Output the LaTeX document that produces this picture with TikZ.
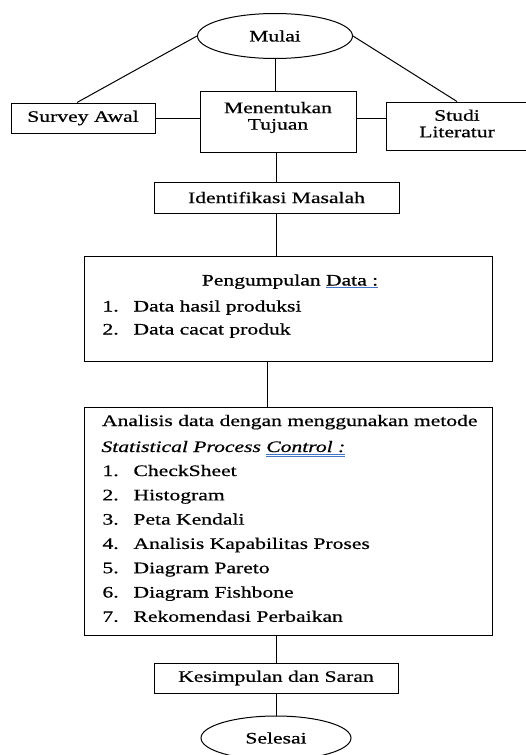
\documentclass[tikz,border=0pt]{standalone}
\usepackage{fontspec}
\setmainfont{Liberation Serif}[FakeStretch=1.35,FakeBold=0.6]
\usetikzlibrary{shapes.geometric,calc}
\definecolor{ulblue}{RGB}{68,114,196}
\newlength\ulwidth
\newcommand\ulone[1]{\settowidth\ulwidth{#1}\rlap{\textcolor{ulblue}{\rule[-2.6pt]{\ulwidth}{1pt}}}#1}
\newcommand\ultwo[1]{\settowidth\ulwidth{#1}\rlap{\textcolor{ulblue}{\rule[-2.4pt]{\ulwidth}{0.9pt}}}\rlap{\textcolor{ulblue}{\rule[-5.2pt]{\ulwidth}{0.9pt}}}#1}
\begin{document}
\begin{tikzpicture}[x=1pt,y=-1pt,line width=1pt,
  every node/.style={inner sep=0pt,font=\fontsize{16}{16.5}\selectfont},
  flowbox/.style={draw,rectangle,align=center},
  term/.style={draw,ellipse},
  txt/.style={anchor=base west}]
\useasboundingbox (0,0) rectangle (525,755);

\node[term,minimum width=155pt,minimum height=45pt] (mulai) at (275,36) {Mulai};
\node[flowbox,minimum width=144pt,minimum height=30pt] (survey) at (83,118) {Survey Awal};
\node[flowbox,minimum width=156pt,minimum height=61pt] (tujuan) at (278,121.5)
  {\raisebox{4pt}[\height][\depth]{\parbox{150pt}{\centering Menentukan\\Tujuan}}};
\node[flowbox,minimum width=142pt,minimum height=48pt] (studi) at (457,126)
  {\raisebox{2.5pt}[\height][\depth]{\parbox{136pt}{\centering Studi\\Literatur}}};
\node[flowbox,minimum width=245pt,minimum height=31pt] (identifikasi) at (276.5,197.5) {Identifikasi Masalah};
\node[flowbox,minimum width=408pt,minimum height=105pt] (pengumpulan) at (288,308.5) {};
\node[flowbox,minimum width=408pt,minimum height=228pt] (analisis) at (288,521) {};
\node[flowbox,minimum width=244pt,minimum height=30pt] (kesimpulan) at (276,678) {Kesimpulan dan Saran};
\node[term,minimum width=150pt,minimum height=44pt] (selesai) at (276,738) {Selesai};

% texts in Pengumpulan
\node[anchor=base] (pjudul) at (290,285.5) {Pengumpulan \ulone{Data :}};
\node[txt] (pn1) at (102,311.5) {1.};
\node[txt] (pi1) at (133,311.5) {Data hasil produksi};
\node[txt] (pn2) at (102,334.5) {2.};
\node[txt] (pi2) at (133,334.5) {Data cacat produk};

% texts in Analisis
\node[txt] (ajudul) at (101.5,426) {Analisis data dengan menggunakan metode};
\node[txt] (aspc) at (101,452) {\textit{Statistical Process \ultwo{Control :}}};
\foreach \t [count=\k] in {CheckSheet,Histogram,Peta Kendali,Analisis Kapabilitas Proses,Diagram Pareto,Diagram Fishbone,Rekomendasi Perbaikan}{
  \node[txt] (an\k) at (102,{476+24.3*(\k-1)}) {\k.};
  \node[txt] (ai\k) at (133,{476+24.3*(\k-1)}) {\t};
}

% connectors
\draw (mulai.south) -- (mulai.south |- tujuan.north);
\draw (mulai.west) -- ([xshift=-6pt]survey.north);
\draw (mulai.east) -- (studi.north);
\draw (survey.east) -- (survey.east -| tujuan.west);
\draw (survey.east -| tujuan.east) -- (survey.east -| studi.west);
\draw (identifikasi.north |- tujuan.south) -- (identifikasi.north);
\draw (identifikasi.south) -- (identifikasi.south |- pengumpulan.north);
\draw ([xshift=-21pt]pengumpulan.south) -- ([xshift=-21pt]analisis.north);
\draw (kesimpulan.north |- analisis.south) -- (kesimpulan.north);
\draw (kesimpulan.south) -- (selesai.north);
\end{tikzpicture}
\end{document}
